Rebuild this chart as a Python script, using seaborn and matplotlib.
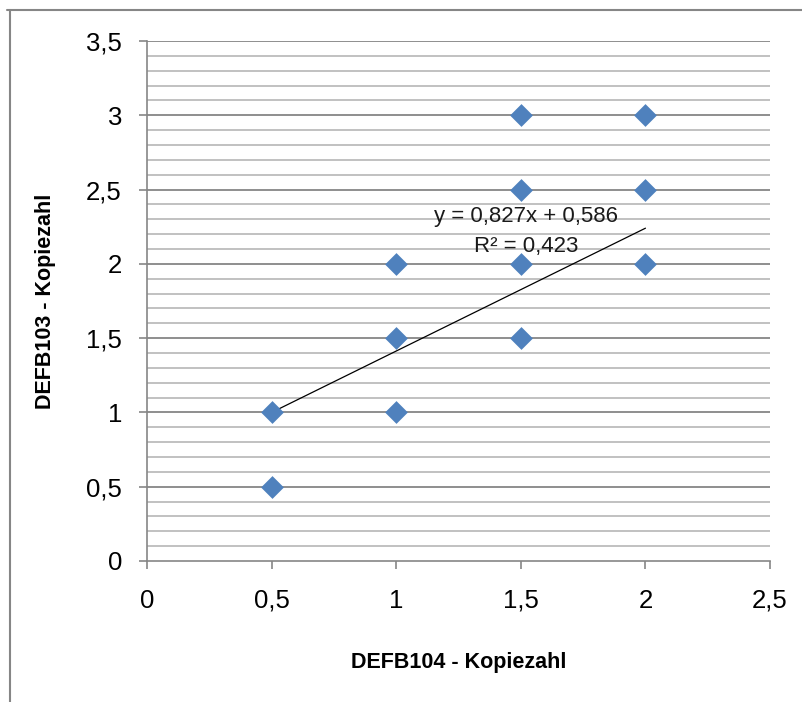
import matplotlib.pyplot as plt
import seaborn as sns
import numpy as np
import pandas as pd
from matplotlib.lines import Line2D

sns.set_theme(style="white")
plt.rcParams['font.family'] = ['Liberation Sans', 'DejaVu Sans']

# data
defb104 = [0.5, 0.5, 1.0, 1.0, 1.0, 1.5, 1.5, 1.5, 1.5, 2.0, 2.0, 2.0]
defb103 = [1.0, 0.5, 2.0, 1.5, 1.0, 3.0, 2.5, 2.0, 1.5, 3.0, 2.5, 2.0]
slope = 0.827
intercept = 0.586
r_squared = 0.423
x_ticks = [0, 0.5, 1, 1.5, 2, 2.5]
y_ticks = [0, 0.5, 1, 1.5, 2, 2.5, 3, 3.5]

df = pd.DataFrame({'x': defb104, 'y': defb103})

def fmt(v):
    # excel style decimal comma
    s = ('%g' % v)
    return s.replace('.', ',')

fig = plt.figure(figsize=(8.03, 7.02), dpi=100)
ax = fig.add_axes([0.183, 0.2009, 0.776, 0.7407])

# minor gridlines every 0.1, major every 0.5
for yv in np.arange(0.1, 3.55, 0.1):
    if abs(yv * 2 - round(yv * 2)) < 1e-6:
        ax.axhline(yv, color='#868686', lw=1.3, zorder=0)
    else:
        ax.axhline(yv, color='#bcbcbc', lw=1.3, zorder=0)

# trendline
xs = np.array([min(defb104), max(defb104)])
ax.plot(xs, slope * xs + intercept, color='black', lw=0.9, zorder=2)

sns.scatterplot(data=df, x='x', y='y', ax=ax, marker='D', s=135,
                color='#4F81BD', edgecolor='#4F81BD', linewidth=0, zorder=3)

ax.text(1.52, 2.32, 'y = ' + fmt(slope) + 'x + ' + fmt(intercept),
        ha='center', va='center', fontsize=16, color='#1a1a1a', zorder=4)
ax.text(1.52, 2.12, 'R² = ' + fmt(r_squared),
        ha='center', va='center', fontsize=16, color='#1a1a1a', zorder=4)

ax.set_xlim(0, 2.5)
ax.set_ylim(0, 3.5)
ax.set_xticks(x_ticks)
ax.set_yticks(y_ticks)
ax.set_xticklabels([fmt(v) for v in x_ticks])
ax.set_yticklabels([fmt(v) for v in y_ticks])
ax.tick_params(axis='both', labelsize=18.5, colors='#868686', labelcolor='black',
               length=6, width=1.2, direction='out', left=True, bottom=True)
ax.tick_params(axis='x', pad=14)
ax.tick_params(axis='y', pad=12)

for side in ['top', 'right']:
    ax.spines[side].set_visible(False)
for side in ['left', 'bottom']:
    ax.spines[side].set_color('#868686')
    ax.spines[side].set_linewidth(1.2)

ax.set_xlabel('DEFB104 - Kopiezahl', fontsize=15.5, fontweight='bold',
              color='black', labelpad=28)
ax.set_ylabel('DEFB103 - Kopiezahl', fontsize=15.5, fontweight='bold',
              color='black', labelpad=22)

# outer chart frame (top and left edges visible)
fig.add_artist(Line2D([0.009, 1.0], [0.9858, 0.9858], color='#868686', lw=1.5,
                      transform=fig.transFigure))
fig.add_artist(Line2D([0.0125, 0.0125], [0.0, 0.9858], color='#868686', lw=1.5,
                      transform=fig.transFigure))

fig.savefig('out.png', dpi=100)
